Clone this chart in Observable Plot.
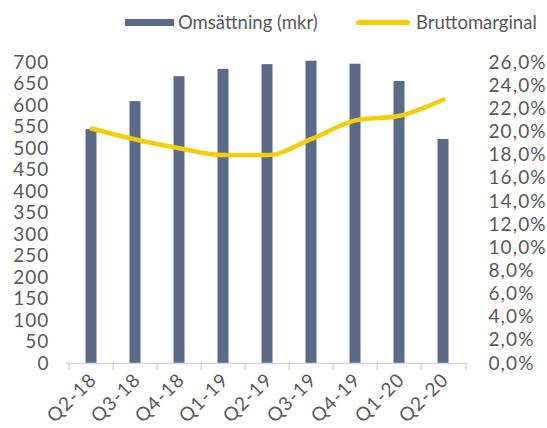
<!DOCTYPE html>
<html><head><meta charset="utf-8">
<script src="https://cdn.jsdelivr.net/npm/d3@7"></script>
<script src="https://cdn.jsdelivr.net/npm/@observablehq/plot@0.6"></script>
<style>
body{margin:0;background:#fff;font-family:Lato,sans-serif;color:#595959}
#legend{position:relative;width:547px;height:40px;font-size:18.5px}
#legend .sw{position:absolute;display:block}
#legend .lab{position:absolute;top:12px;line-height:20px;white-space:nowrap}
</style></head><body>
<div id="legend">
  <span class="sw" style="left:125px;top:18.5px;width:49px;height:7px;background:#596b89"></span>
  <span class="lab" style="left:178px">Omsättning (mkr)</span>
  <span class="sw" style="left:356px;top:20px;width:54px;height:4.5px;border-radius:2px;background:#f5ce0b"></span>
  <span class="lab" style="left:416px">Bruttomarginal</span>
</div>
<div id="chart"></div>
<script>
const quarters = ["Q2-18","Q3-18","Q4-18","Q1-19","Q2-19","Q3-19","Q4-19","Q1-20","Q2-20"];
const revenue = [544, 609, 667, 684, 695, 703, 696, 656, 521];
const grossMargin = [20.3, 19.35, 18.6, 18.0, 18.0, 19.4, 21.0, 21.4, 22.8];
const leftTicks = d3.range(0, 701, 50);
const rightTicksPct = d3.range(0, 27, 2);
const yMax = 700, pctMax = 26;

const data = quarters.map((q, i) => ({q, rev: revenue[i], gm: grossMargin[i]}));
const W = 547, H = 388, mL = 66, mR = 79, mT = 22, mB = 65;
const step = (W - mL - mR) / quarters.length;
const toY = p => p * yMax / pctMax;

const chart = Plot.plot({
  width: W, height: H,
  marginLeft: mL, marginRight: mR, marginTop: mT, marginBottom: mB,
  style: {fontFamily: "Lato, sans-serif", fontSize: "19px", letterSpacing: "1.1px", color: "#595959", background: "#fff"},
  x: {domain: quarters, padding: 0, label: null},
  y: {domain: [0, yMax], label: null},
  marks: [
    Plot.barY(data, {x: "q", y: "rev", fill: "#596b89", insetLeft: 16.5, insetRight: 16.5}),
    Plot.ruleY([0], {stroke: "#d9d9d9", strokeWidth: 1.5}),
    Plot.axisX(quarters, {tickSize: 7, tickFormat: () => "", stroke: "#d9d9d9", strokeWidth: 1.5, dx: -step / 2, label: null}),
    Plot.axisX([quarters[quarters.length - 1]], {tickSize: 7, tickFormat: () => "", stroke: "#d9d9d9", strokeWidth: 1.5, dx: step / 2, label: null}),
    Plot.axisX(quarters, {tickSize: 0, tickRotate: -45, tickPadding: 13, dx: 2, label: null}),
    Plot.axisY(leftTicks, {anchor: "left", tickSize: 0, tickPadding: 17, label: null}),
    Plot.axisY(rightTicksPct.map(toY), {anchor: "right", tickSize: 0, tickPadding: 20, label: null,
      tickFormat: v => (v * pctMax / yMax).toFixed(1).replace(".", ",") + "%"}),
    Plot.line(data, {x: "q", y: d => toY(d.gm), stroke: "#f5ce0b", strokeWidth: 4.5, curve: "monotone-x", strokeLinecap: "round"})
  ]
});
document.getElementById("chart").append(chart);
</script>
</body></html>
